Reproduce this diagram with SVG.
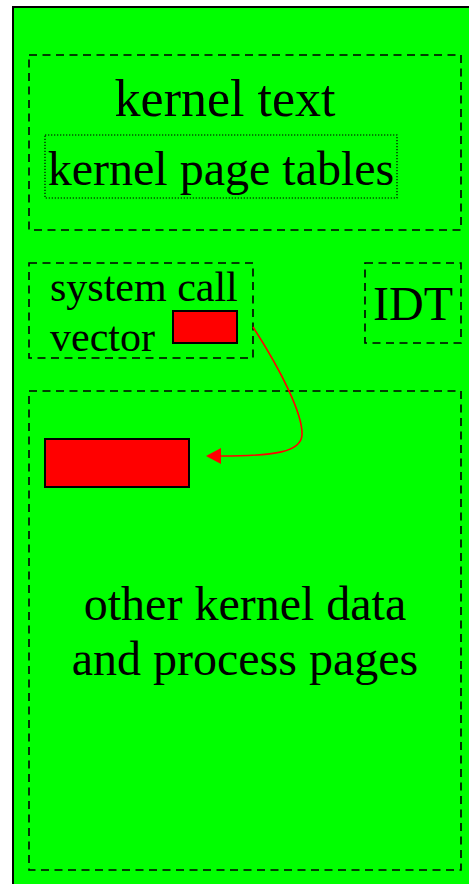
<svg xmlns="http://www.w3.org/2000/svg" width="469" height="884" viewBox="0 0 469 884">
  <style>
    .region { fill: none; stroke: #000; stroke-width: 1.6; stroke-dasharray: 8 5.5; }
    .dotted { fill: none; stroke: #000; stroke-width: 1.2; stroke-dasharray: 1.3 1.7; }
    .slot { fill: #ff0000; stroke: #000; stroke-width: 2; }
    .label { font-family: "Liberation Serif", "Times New Roman", serif; fill: #000; }
    .link { fill: none; stroke: #ff0000; stroke-width: 1.6; }
    .head { fill: #ff0000; }
  </style>

  <!-- kernel address space -->
  <rect x="0" y="0" width="469" height="884" fill="#ffffff"/>
  <rect x="13" y="7" width="470" height="890" fill="#00ff00" stroke="#000" stroke-width="2"/>

  <g id="kernel-text">
    <rect class="region" x="29" y="55" width="432" height="175"/>
    <text class="label" x="225" y="116" font-size="52" text-anchor="middle">kernel text</text>
  </g>

  <g id="kernel-page-tables">
    <rect class="dotted" x="45" y="135" width="352" height="63"/>
    <text class="label" x="221" y="185" font-size="48" text-anchor="middle">kernel page tables</text>
  </g>

  <g id="syscall-vector">
    <rect class="region" x="29" y="263" width="224" height="95"/>
    <text class="label" x="50" y="301" font-size="42">system call</text>
    <text class="label" x="50" y="351" font-size="42">vector</text>
    <rect class="slot" x="173" y="311" width="64" height="32"/>
  </g>

  <g id="idt">
    <rect class="region" x="365" y="263" width="96" height="80"/>
    <text class="label" x="413" y="320" font-size="48" text-anchor="middle">IDT</text>
  </g>

  <g id="kernel-data">
    <rect class="region" x="29" y="391" width="432" height="479"/>
    <rect class="slot" x="45" y="439" width="144" height="48"/>
    <text class="label" x="245" y="620" font-size="48" text-anchor="middle">other kernel data</text>
    <text class="label" x="245" y="675" font-size="48" text-anchor="middle">and process pages</text>
  </g>

  <g id="connectors">
    <path class="link" d="M253,327 C282,372 303,415 302,435 C301,452 275,456 221,456"/>
    <path class="head" d="M221,448 L206,456 L221,464 z"/>
  </g>
</svg>
